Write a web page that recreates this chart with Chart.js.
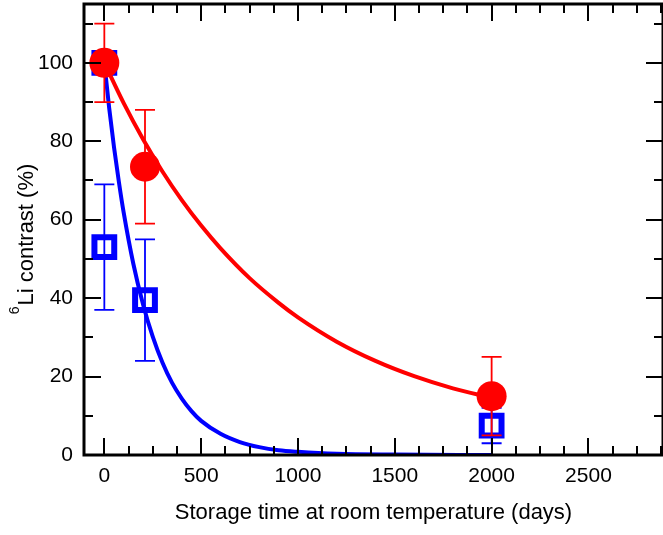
<!DOCTYPE html>
<html>
<head>
<meta charset="utf-8">
<script src="https://cdn.jsdelivr.net/npm/chart.js@4"></script>
<style>
  html, body { margin: 0; padding: 0; background: #fff; }
  canvas { display: block; }
</style>
</head>
<body>
<canvas id="decay-chart" width="663" height="535"></canvas>
<script>
// Measured points: storage days, contrast (%) and error half-widths
const redDays = [0, 210, 2000];
const redContrast = [100, 73.5, 15];
const redError = [10, 14.5, 10];

const blueDays = [0, 0, 210, 2000];
const blueContrast = [100, 53, 39.5, 7.5];
const blueError = [0, 16, 15.5, 4.5];

// Fitted decay curves
const redFitDays = [0, 100, 200, 300, 400, 500, 600, 750, 900, 1000, 1200, 1400, 1600, 1800, 2000];
const redFitContrast = [100, 89.7, 80.5, 72.3, 65, 58.5, 52.7, 45.1, 38.8, 35.1, 28.9, 24, 20.1, 17, 14.6];

const blueFitDays = [0, 25, 50, 75, 100, 150, 200, 250, 300, 350, 400, 450, 500, 600, 700, 800, 900, 1000, 1200, 1500, 2000];
const blueFitContrast = [100, 88.5, 78.5, 69.7, 61.8, 48.7, 38.4, 30.2, 23.6, 18.4, 14.4, 11.2, 8.7, 5.4, 3.3, 2.0, 1.2, 0.8, 0.3, 0.1, 0];

// Axis settings
const xTicks = [0, 500, 1000, 1500, 2000, 2500];
const yTicks = [0, 20, 40, 60, 80, 100];
const xMinorStep = 125;
const yMinorStep = 10;

const FONT = 'Arial, "Liberation Sans", sans-serif';

const toPoints = (xs, ys) => xs.map((d, i) => ({ x: d, y: ys[i] }));

function drawErrors(chart, ds) {
    const { ctx, scales: { x, y } } = chart;
    ctx.save();
    ctx.strokeStyle = ds.borderColor;
    ctx.lineWidth = 1.8;
    ds.data.forEach((p, i) => {
        const e = ds.errors[i];
        if (!e) return;
        const px = x.getPixelForValue(p.x);
        const top = y.getPixelForValue(p.y + e);
        const bot = y.getPixelForValue(p.y - e);
        ctx.beginPath();
        ctx.moveTo(px, top); ctx.lineTo(px, bot);
        ctx.moveTo(px - 10, top); ctx.lineTo(px + 10, top);
        ctx.moveTo(px - 10, bot); ctx.lineTo(px + 10, bot);
        ctx.stroke();
    });
    ctx.restore();
}

// error bars go right under their own markers
const errorBars = {
    id: 'errorBars',
    beforeDatasetDraw(chart, args) {
        const ds = chart.data.datasets[args.index];
        if (ds.errors) drawErrors(chart, ds);
    }
};

// box frame with inward ticks on all four sides
const frameTicks = {
    id: 'frameTicks',
    afterDatasetsDraw(chart) {
        const { ctx, chartArea: a, scales: { x, y } } = chart;
        const major = 17, minor = 9;
        ctx.save();
        ctx.strokeStyle = '#000';
        ctx.lineWidth = 2;
        ctx.beginPath();
        for (let v = 0; v <= x.max; v += xMinorStep) {
            const px = Math.round(x.getPixelForValue(v));
            const len = xTicks.includes(v) ? major : minor;
            ctx.moveTo(px, a.bottom); ctx.lineTo(px, a.bottom - len);
            ctx.moveTo(px, a.top); ctx.lineTo(px, a.top + len);
        }
        for (let v = 0; v <= y.max; v += yMinorStep) {
            const py = Math.round(y.getPixelForValue(v));
            const len = yTicks.includes(v) ? major : minor;
            ctx.moveTo(a.left, py); ctx.lineTo(a.left + len, py);
            ctx.moveTo(a.right, py); ctx.lineTo(a.right - len, py);
        }
        ctx.stroke();
        ctx.lineWidth = 3;
        ctx.strokeRect(a.left, a.top, a.right - a.left, a.bottom - a.top);
        ctx.restore();
    }
};

// rotated y title with a superscript mass number
const yTitle = {
    id: 'yTitle',
    afterDraw(chart) {
        const ctx = chart.ctx;
        const main = 'Li contrast (%)';
        ctx.save();
        ctx.translate(33, 239);
        ctx.rotate(-Math.PI / 2);
        ctx.fillStyle = '#000';
        ctx.textBaseline = 'alphabetic';
        ctx.font = '22px ' + FONT;
        const wMain = ctx.measureText(main).width;
        ctx.font = '14px ' + FONT;
        const wSup = ctx.measureText('6').width;
        const start = -(wMain + wSup + 1) / 2;
        ctx.fillText('6', start, -14);
        ctx.font = '22px ' + FONT;
        ctx.fillText(main, start + wSup + 1, 0);
        ctx.restore();
    }
};

const ctx = document.getElementById('decay-chart').getContext('2d');

new Chart(ctx, {
    type: 'scatter',
    data: {
        datasets: [
            {
                label: 'red',
                data: toPoints(redDays, redContrast),
                errors: redError,
                borderColor: '#ff0000',
                backgroundColor: '#ff0000',
                pointStyle: 'circle',
                pointRadius: 15,
                borderWidth: 0,
                order: 0
            },
            {
                label: 'blue',
                data: toPoints(blueDays, blueContrast),
                errors: blueError,
                borderColor: '#0000ff',
                backgroundColor: 'rgba(0,0,0,0)',
                pointStyle: 'rect',
                pointRadius: 14,
                borderWidth: 6,
                order: 1
            },
            {
                label: 'red fit',
                data: toPoints(redFitDays, redFitContrast),
                showLine: true,
                borderColor: '#ff0000',
                borderWidth: 4,
                pointRadius: 0,
                cubicInterpolationMode: 'monotone',
                order: 2
            },
            {
                label: 'blue fit',
                data: toPoints(blueFitDays, blueFitContrast),
                showLine: true,
                borderColor: '#0000ff',
                borderWidth: 4,
                pointRadius: 0,
                cubicInterpolationMode: 'monotone',
                order: 3
            }
        ]
    },
    options: {
        responsive: false,
        animation: false,
        layout: {
            autoPadding: false,
            padding: { top: 4, right: 0, left: 0, bottom: 0 }
        },
        plugins: {
            legend: { display: false },
            tooltip: { enabled: false }
        },
        scales: {
            x: {
                type: 'linear',
                min: -105,
                max: 2885,
                grid: { display: false, drawTicks: false },
                border: { display: false },
                ticks: {
                    autoSkip: false,
                    color: '#000',
                    font: { family: FONT, size: 21 },
                    padding: 9,
                    maxRotation: 0,
                    callback: v => String(v)
                },
                afterBuildTicks: s => {
                    s.ticks = xTicks.map(v => ({ value: v }));
                },
                afterFit: s => {
                    s.height = 80;
                    s.paddingLeft = 0;
                    s.paddingRight = 0;
                },
                title: {
                    display: true,
                    text: 'Storage time at room temperature (days)',
                    color: '#000',
                    font: { family: FONT, size: 22 },
                    padding: { top: 0, bottom: 9 }
                }
            },
            y: {
                type: 'linear',
                min: 0,
                max: 115,
                grid: { display: false, drawTicks: false },
                border: { display: false },
                ticks: {
                    autoSkip: false,
                    color: '#000',
                    font: { family: FONT, size: 21 },
                    padding: 11
                },
                afterBuildTicks: s => {
                    s.ticks = yTicks.map(v => ({ value: v }));
                },
                afterFit: s => {
                    s.width = 84;
                    s.paddingTop = 0;
                    s.paddingBottom = 0;
                }
            }
        }
    },
    plugins: [errorBars, frameTicks, yTitle]
});
</script>
</body>
</html>
